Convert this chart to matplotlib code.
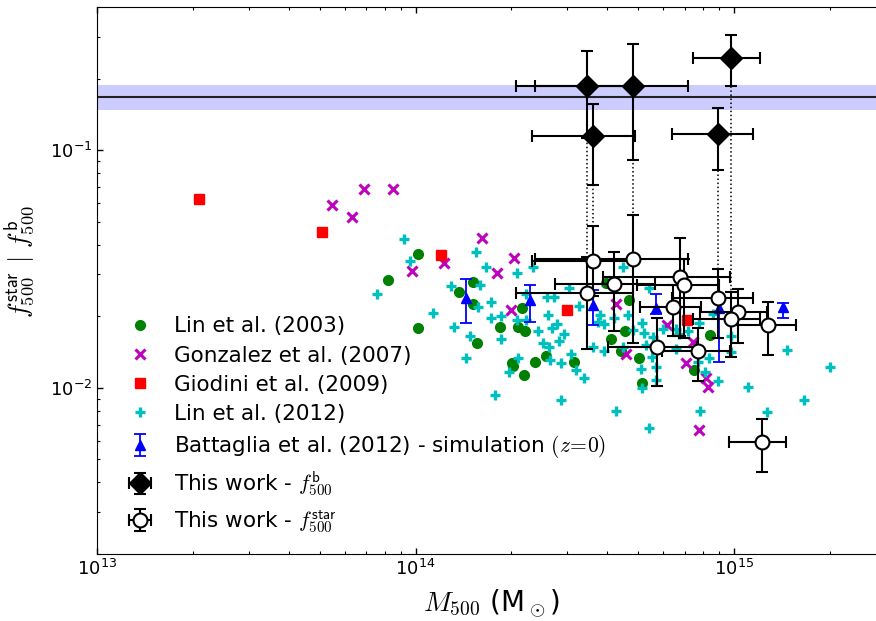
import numpy as np
import matplotlib
matplotlib.use("Agg")
import matplotlib.pyplot as plt

plt.rcParams['mathtext.fontset'] = 'cm'
plt.rcParams['font.family'] = ['DejaVu Sans']

# ---------------- data ----------------
# Lin et al. (2003)
lin03_m = [1.02e14, 8.22e13, 1.37e14, 1.52e14, 1.52e14, 1.02e14, 1.56e14, 1.84e14, 2.16e14,
           2.10e14, 2.20e14, 2.01e14, 2.02e14, 2.37e14, 2.56e14, 3.15e14, 2.19e14, 3.97e14,
           4.10e14, 4.67e14, 4.55e14, 4.43e14, 5.03e14, 5.14e14, 8.40e14, 7.50e14]
lin03_f = [0.0367, 0.0284, 0.0254, 0.0280, 0.0225, 0.0178, 0.0155, 0.0181, 0.0216,
           0.0181, 0.0173, 0.0127, 0.0124, 0.0129, 0.0136, 0.0129, 0.0113, 0.0275,
           0.0160, 0.0235, 0.0173, 0.0143, 0.0134, 0.0105, 0.0167, 0.0119]

# Gonzalez et al. (2007)
gon07_m = [5.48e13, 6.89e13, 8.47e13, 6.31e13, 9.75e13, 1.23e14, 1.62e14, 1.80e14, 2.04e14,
           1.99e14, 4.26e14, 6.18e14, 4.57e14, 7.41e14, 7.06e14, 8.15e14, 8.30e14, 7.75e14]
gon07_f = [0.0590, 0.0689, 0.0689, 0.0525, 0.0310, 0.0335, 0.0428, 0.0303, 0.0352,
           0.0212, 0.0225, 0.0183, 0.0139, 0.0156, 0.0127, 0.0110, 0.0101, 0.00665]

# Giodini et al. (2009)
gio09_m = [2.09e13, 5.08e13, 1.20e14, 3.00e14, 7.10e14]
gio09_f = [0.0624, 0.0452, 0.0362, 0.0212, 0.0192]

# Lin et al. (2012)
lin12_m = [9.22e13, 9.63e13, 7.59e13, 1.135e14, 1.55e14, 1.66e14, 1.29e14, 1.59e14, 1.57e14,
           1.73e14, 1.73e14, 1.32e14, 1.48e14, 1.44e14, 1.78e14, 2.34e14, 2.08e14, 3.04e14,
           2.22e14, 2.58e14, 2.72e14, 3.25e14, 1.85e14, 2.09e14, 2.22e14, 2.61e14, 2.79e14,
           2.68e14, 2.42e14, 2.92e14, 1.85e14, 2.82e14, 2.52e14, 2.62e14, 3.08e14, 2.10e14,
           2.65e14, 2.86e14, 1.96e14, 3.18e14, 3.39e14, 2.86e14, 3.80e14, 3.91e14, 3.62e14,
           3.91e14, 4.19e14, 4.27e14, 3.75e14,
           4.48e14, 5.42e14, 4.66e14, 5.13e14, 4.83e14, 5.22e14, 5.58e14, 5.98e14, 6.58e14,
           6.72e14, 7.19e14, 7.75e14, 8.56e14, 9.79e14, 9.79e14, 6.58e14, 5.29e14, 5.52e14,
           5.10e14, 5.69e14, 5.69e14, 5.13e14, 7.70e14, 8.36e14, 8.09e14, 8.89e14, 1.11e15,
           7.82e14, 5.42e14, 1.47e15, 2.00e15, 1.66e15, 1.27e15, 4.48e14]
lin12_f = [0.0424, 0.0340, 0.0248, 0.0207, 0.0374, 0.0321, 0.0267, 0.0272, 0.0219,
           0.0230, 0.0196, 0.0181, 0.0166, 0.0133, 0.0093, 0.0321, 0.0305, 0.0263,
           0.0248, 0.0242, 0.0242, 0.0222, 0.0200, 0.0192, 0.0192, 0.0203, 0.0186,
           0.0178, 0.0173, 0.0169, 0.0161, 0.0158, 0.0155, 0.0148, 0.0139, 0.0133,
           0.0131, 0.0127, 0.0117, 0.0119, 0.0110, 0.0089, 0.0203, 0.0186, 0.0148,
           0.0143, 0.0196, 0.0080, 0.0190,
           0.0321, 0.0263, 0.0203, 0.0188, 0.0175, 0.0170, 0.0163, 0.0177, 0.0176,
           0.0169, 0.0174, 0.0188, 0.0205, 0.0166, 0.0142, 0.0146, 0.0151, 0.0135,
           0.0120, 0.0122, 0.0108, 0.0100, 0.0128, 0.0134, 0.0117, 0.0107, 0.0101,
           0.0080, 0.0068, 0.0144, 0.0122, 0.0089, 0.0079, 0.0149]

# Battaglia et al. (2012) - simulation
bat12_m = [1.44e14, 2.28e14, 3.60e14, 5.70e14, 8.95e14, 1.42e15]
bat12_f = [0.0239, 0.0234, 0.0223, 0.0216, 0.0217, 0.0218]
bat12_hi = [0.0288, 0.0270, 0.0259, 0.0248, 0.0237, 0.0227]
bat12_lo = [0.0188, 0.0190, 0.0184, 0.0205, 0.0129, 0.0196]

# This work - f_star
star_m = [3.61e14, 4.83e14, 4.20e14, 3.46e14, 6.77e14, 6.97e14, 6.44e14, 8.91e14, 1.03e15,
          9.76e14, 5.74e14, 7.71e14, 1.28e15, 1.22e15]
star_mlo = [2.32e14, 2.37e14, 2.74e14, 2.07e14, 3.87e14, 4.95e14, 5.07e14, 6.38e14, 7.82e14,
            7.45e14, 4.03e14, 5.93e14, 9.77e14, 9.66e14]
star_mhi = [4.89e14, 7.17e14, 5.65e14, 4.83e14, 9.70e14, 8.99e14, 7.86e14, 1.15e15, 1.27e15,
            1.21e15, 7.64e14, 9.70e14, 1.57e15, 1.46e15]
star_f = [0.0342, 0.0347, 0.0273, 0.0250, 0.0294, 0.0270, 0.0218, 0.0239, 0.0208,
          0.0195, 0.0148, 0.0143, 0.0183, 0.00589]
star_fhi = [0.0479, 0.0536, 0.0374, 0.0354, 0.0425, 0.0350, 0.0271, 0.0316, 0.0260,
            0.0253, 0.0196, 0.0178, 0.0229, 0.00737]
star_flo = [0.0244, 0.0155, 0.0173, 0.0145, 0.0166, 0.0162, 0.0166, 0.0162, 0.0155,
            0.0135, 0.0102, 0.0107, 0.0137, 0.00441]

# This work - f_b (same clusters as star index below)
bar_idx = [3, 0, 1, 7, 9]
bar_f = [0.186, 0.1148, 0.186, 0.1167, 0.244]
bar_fhi = [0.261, 0.157, 0.280, 0.1507, 0.3037]
bar_flo = [0.112, 0.0716, 0.0905, 0.0827, 0.186]

# cosmic baryon fraction
fb_cosmic = 0.167
fb_cosmic_lo = 0.147
fb_cosmic_hi = 0.188

# ---------------- plot ----------------
fig = plt.figure(figsize=(8.76, 6.21), dpi=100)
ax = fig.add_axes([97/876, 67/621, (886-97)/876, (554-7)/621])
ax.set_xscale('log')
ax.set_yscale('log')
ax.set_xlim(1e13, 3e15)
ax.set_ylim(0.002, 0.4)

ax.axhspan(fb_cosmic_lo, fb_cosmic_hi, color='#ccccff', lw=0, zorder=0)
ax.axhline(fb_cosmic, color='#222222', lw=1.5, zorder=1)

ax.plot(lin03_m, lin03_f, 'o', color='g', ms=7, mec='g', label='Lin et al. (2003)', zorder=2)
ax.plot(gon07_m, gon07_f, 'x', color='m', ms=7, mew=2.2, label='Gonzalez et al. (2007)', zorder=2)
ax.plot(gio09_m, gio09_f, 's', color='r', ms=7, mec='r', label='Giodini et al. (2009)', zorder=2)
ax.plot(lin12_m, lin12_f, '+', color='c', ms=7, mew=2.4, label='Lin et al. (2012)', zorder=2)

bat_m = np.array(bat12_m)
bat_f = np.array(bat12_f)
ax.errorbar(bat_m, bat_f, yerr=[bat_f - np.array(bat12_lo), np.array(bat12_hi) - bat_f],
            fmt='^', color='b', ms=7, capsize=4, elinewidth=1.3, capthick=1.3,
            label=r'Battaglia et al. (2012) - simulation $(z\!=\!0)$', zorder=3)

sm = np.array(star_m)
sf = np.array(star_f)
smlo = np.array(star_mlo)
smhi = np.array(star_mhi)

bm = sm[bar_idx]
bf = np.array(bar_f)
# dotted connections
for m_, f1, f2 in zip(bm, bf, sf[bar_idx]):
    ax.plot([m_, m_], [f1, f2], ':', color='k', lw=1.1, zorder=3)

ax.errorbar(bm, bf, xerr=[bm - smlo[bar_idx], smhi[bar_idx] - bm],
            yerr=[bf - np.array(bar_flo), np.array(bar_fhi) - bf],
            fmt='D', color='k', mfc='k', mec='k', ms=11, capsize=4, elinewidth=1.5, capthick=1.5,
            label=r'This work - $f^{\mathsf{b}}_{500}$', zorder=5)

ax.errorbar(sm, sf, xerr=[sm - smlo, smhi - sm],
            yerr=[sf - np.array(star_flo), np.array(star_fhi) - sf],
            fmt='o', color='k', mfc='white', mec='k', mew=1.5, ms=10, capsize=4,
            elinewidth=1.5, capthick=1.5,
            label=r'This work - $f^{\mathsf{star}}_{500}$', zorder=4)

ax.tick_params(which='both', direction='in', top=True, right=True, labelsize=13)
ax.tick_params(which='major', length=4.5, width=1)
ax.tick_params(which='minor', length=2.4, width=0.8)

ax.set_xlabel(r'$M_{500}$ (M$_\odot$)', fontsize=20, labelpad=6)
ax.set_ylabel(r'$f^{\mathsf{star}}_{500}$ $\mathbf{|}$ $f^{\mathsf{b}}_{500}$', fontsize=19)
ax.yaxis.set_label_coords(-0.075, 0.535)

leg = ax.legend(loc='lower left', bbox_to_anchor=(0.016, -0.001), frameon=False, fontsize=15.5,
                numpoints=1, handlelength=1.0, handletextpad=1.07, labelspacing=0.43)

fig.savefig('out.png', dpi=100)
